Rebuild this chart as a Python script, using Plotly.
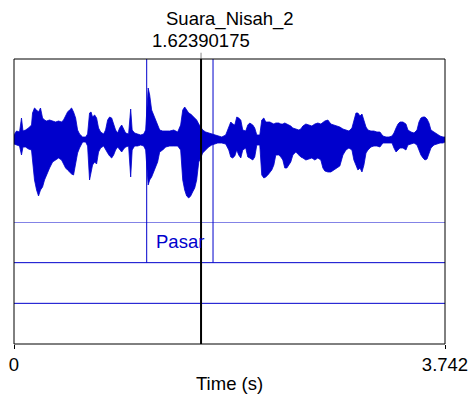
import plotly.graph_objects as go

# ---- data ----
title_text = "Suara_Nisah_2"
duration = 3.742
cursor_time = 1.62390175
x_tick_vals = [0, 3.742]
x_tick_text = ["0", "3.742"]

# waveform envelope (time in s, amplitude in arbitrary units)
wave_t = [0.000, 0.022, 0.048, 0.065, 0.078, 0.100, 0.126, 0.152, 0.161, 0.178,
          0.196, 0.213, 0.230, 0.248, 0.265, 0.282, 0.309, 0.335, 0.361, 0.387,
          0.413, 0.430, 0.448, 0.465, 0.482, 0.500, 0.517, 0.535, 0.552, 0.569,
          0.596, 0.622, 0.639, 0.656, 0.669, 0.682, 0.700, 0.717, 0.734, 0.752,
          0.778, 0.795, 0.813, 0.830, 0.848, 0.865, 0.882, 0.900, 0.917, 0.935,
          0.952, 0.969, 0.995, 1.013, 1.026, 1.047, 1.073, 1.100, 1.126, 1.143,
          1.165, 1.178, 1.195, 1.213, 1.230, 1.247, 1.265, 1.291, 1.317, 1.352,
          1.387, 1.421, 1.447, 1.465, 1.482, 1.499, 1.517, 1.534, 1.551, 1.569,
          1.586, 1.604, 1.621, 1.638, 1.664, 1.690, 1.717, 1.743, 1.769, 1.804,
          1.838, 1.865, 1.882, 1.899, 1.917, 1.934, 1.951, 1.969, 1.986, 2.012,
          2.030, 2.047, 2.073, 2.090, 2.108, 2.134, 2.151, 2.169, 2.186, 2.204,
          2.221, 2.238, 2.256, 2.273, 2.299, 2.317, 2.334, 2.351, 2.369, 2.386,
          2.403, 2.421, 2.447, 2.473, 2.490, 2.508, 2.534, 2.560, 2.586, 2.612,
          2.638, 2.664, 2.682, 2.699, 2.725, 2.751, 2.777, 2.803, 2.829, 2.856,
          2.882, 2.908, 2.934, 2.951, 2.969, 2.986, 3.004, 3.021, 3.038, 3.056,
          3.073, 3.099, 3.125, 3.151, 3.177, 3.203, 3.230, 3.256, 3.282, 3.299,
          3.317, 3.334, 3.351, 3.377, 3.403, 3.420, 3.447, 3.473, 3.499, 3.516,
          3.533, 3.551, 3.568, 3.586, 3.603, 3.620, 3.646, 3.672, 3.699, 3.725,
          3.742]
wave_upper = [5, 9, 8, 22, 9, 10, 12, 15, 27, 32,
              30, 28, 32, 22, 20, 19, 20, 19, 18, 19,
              18, 20, 25, 28, 30, 32, 28, 22, 10, 6,
              3, 3, 6, 27, 28, 23, 25, 22, 12, 8,
              6, 10, 20, 23, 22, 16, 10, 7, 12, 15,
              10, 7, 6, 31, 10, 7, 6, 5, 6, 10,
              52, 45, 30, 25, 20, 14, 10, 9, 9, 9,
              10, 8, 15, 30, 33, 30, 27, 26, 24, 22,
              20, 16, 13, 10, 8, 7, 6, 5, 4, 3,
              5, 12, 18, 16, 15, 23, 22, 20, 10, 9,
              15, 17, 15, 12, 5, 5, 20, 22, 18, 18,
              18, 17, 16, 17, 17, 16, 16, 17, 16, 15,
              14, 12, 11, 10, 11, 14, 16, 15, 14, 16,
              17, 16, 18, 19, 20, 16, 15, 14, 13, 11,
              10, 9, 12, 20, 27, 27, 24, 26, 20, 13,
              10, 9, 9, 8, 8, 4, 3, 3, 4, 7,
              12, 16, 18, 18, 16, 10, 8, 7, 10, 18,
              22, 23, 23, 21, 17, 10, 8, 6, 4, 3,
              3]
wave_lower = [-4, -5, -6, -15, -7, -7, -9, -10, -20, -40,
              -50, -56, -50, -47, -40, -35, -28, -22, -20, -18,
              -20, -24, -28, -30, -32, -34, -35, -25, -13, -8,
              -2, -2, -6, -40, -30, -25, -22, -24, -12, -8,
              -6, -10, -13, -16, -18, -15, -10, -7, -10, -12,
              -9, -7, -6, -37, -10, -6, -6, -5, -6, -10,
              -45, -40, -37, -32, -28, -22, -12, -10, -7, -6,
              -6, -6, -10, -40, -50, -56, -58, -56, -52, -48,
              -40, -22, -18, -13, -10, -7, -5, -4, -3, -3,
              -4, -10, -17, -18, -16, -10, -15, -18, -10, -8,
              -17, -18, -20, -17, -5, -5, -35, -38, -37, -35,
              -32, -30, -25, -15, -15, -17, -20, -28, -28, -25,
              -22, -15, -12, -15, -17, -18, -20, -19, -18, -20,
              -18, -20, -28, -31, -32, -32, -30, -28, -26, -15,
              -10, -8, -10, -20, -25, -30, -28, -32, -25, -13,
              -10, -7, -6, -6, -7, -3, -3, -3, -3, -8,
              -12, -10, -8, -8, -10, -5, -4, -3, -5, -10,
              -15, -18, -20, -19, -13, -8, -5, -4, -3, -3,
              -2]

# TextGrid
tier_lines = [1, 2, 3]
tier1_boundaries = [1.152, 1.728]
tier1_labels = ["Pasar"]

BLUE = "#0000CC"
FONT = "Liberation Sans, Arial, sans-serif"
FS = 18.5

fig = go.Figure()

# waveform
fig.add_trace(go.Scatter(x=wave_t, y=wave_lower, mode="lines",
                         line=dict(color=BLUE, width=0.8), yaxis="y",
                         hoverinfo="skip", showlegend=False))
fig.add_trace(go.Scatter(x=wave_t, y=wave_upper, mode="lines", fill="tonexty",
                         fillcolor=BLUE, line=dict(color=BLUE, width=0.8),
                         yaxis="y", hoverinfo="skip", showlegend=False))

# tier separator lines
for k in tier_lines:
    fig.add_trace(go.Scatter(x=[0, duration], y=[k, k], mode="lines",
                             line=dict(color=BLUE, width=1), yaxis="y2",
                             hoverinfo="skip", showlegend=False))

# tier-1 boundaries (in tier and extended through the sound)
for b in tier1_boundaries:
    fig.add_trace(go.Scatter(x=[b, b], y=[2, 3], mode="lines",
                             line=dict(color=BLUE, width=1), yaxis="y2",
                             hoverinfo="skip", showlegend=False))
    fig.add_trace(go.Scatter(x=[b, b], y=[-82, 81], mode="lines",
                             line=dict(color=BLUE, width=1), yaxis="y",
                             hoverinfo="skip", showlegend=False))

# interval label
fig.add_annotation(x=(tier1_boundaries[0] + tier1_boundaries[1]) / 2, y=2.5,
                   xref="x", yref="y2", text=tier1_labels[0], showarrow=False,
                   yanchor="middle", yshift=1,
                   font=dict(family=FONT, size=FS, color=BLUE))

# cursor
fig.add_shape(type="line", xref="x", yref="paper", x0=cursor_time, x1=cursor_time,
              y0=0, y1=1, line=dict(color="black", width=2))
fig.add_shape(type="line", xref="x", yref="paper", x0=cursor_time, x1=cursor_time,
              y0=1, y1=1.022, line=dict(color="#888888", width=1))
fig.add_annotation(x=cursor_time, y=1, xref="x", yref="paper",
                   text=f"{cursor_time:.8f}", showarrow=False,
                   yanchor="middle", yshift=19,
                   font=dict(family=FONT, size=FS, color="black"))

# title
fig.add_annotation(x=0.5, y=1, xref="paper", yref="paper", text=title_text,
                   showarrow=False, yanchor="middle", yshift=40,
                   font=dict(family=FONT, size=FS, color="black"))
# x-axis title
fig.add_annotation(x=0.5, y=0, xref="paper", yref="paper", text="Time (s)",
                   showarrow=False, yanchor="middle", yshift=-39,
                   font=dict(family=FONT, size=FS, color="black"))

# frame
fig.add_shape(type="rect", xref="paper", yref="paper", x0=0, x1=1, y0=0, y1=1,
              line=dict(color="black", width=1))

fig.update_layout(
    width=470, height=397,
    margin=dict(l=14, r=25, t=59, b=53, autoexpand=False),
    paper_bgcolor="white", plot_bgcolor="white",
    showlegend=False,
    xaxis=dict(range=[0, duration], tickvals=x_tick_vals, ticktext=x_tick_text,
               anchor="y2", automargin=False, ticklabeloverflow="allow",
               ticks="outside", ticklen=4, tickcolor="black", tickwidth=1,
               showgrid=False, zeroline=False, showline=False,
               tickfont=dict(family=FONT, size=FS, color="black")),
    yaxis=dict(domain=[0.4281, 1], range=[-82, 81], visible=False, automargin=False),
    yaxis2=dict(domain=[0, 0.4281], range=[0, 3], visible=False, automargin=False),
)

# remove the default page margin so the 470x397 figure fills the window exactly
fig.write_html("out.html",
               config={"displayModeBar": False},
               post_script="document.body.style.margin='0';"
                           "document.documentElement.style.overflow='hidden';")
